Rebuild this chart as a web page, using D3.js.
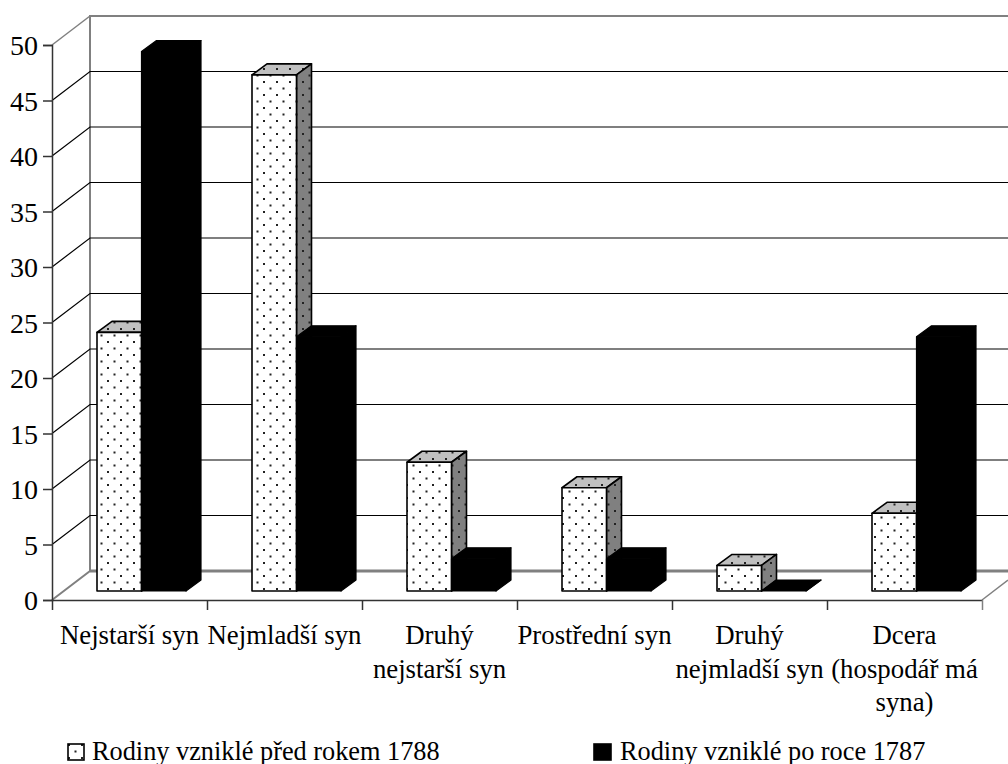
<!DOCTYPE html>
<html lang="en">
<head>
  <meta charset="UTF-8">
  <title>Rodiny</title>
  <style>
    * { padding: 0; margin: 0; }
    body { background: #fff; }
    svg { display: block; }
    text { font-family: "Liberation Serif", serif; fill: #000; }
  </style>
</head>
<body>
  <script src="https://d3js.org/d3.v7.min.js"></script>
  <script>
    const categories = [
      ['Nejstarší syn'],
      ['Nejmladší syn'],
      ['Druhý', 'nejstarší syn'],
      ['Prostřední syn'],
      ['Druhý', 'nejmladší syn'],
      ['Dcera', '(hospodář má', 'syna)']
    ];
    const before1788 = [23.3, 46.5, 11.6, 9.3, 2.3, 7.0];
    const after1787 = [48.6, 22.9, 2.9, 2.9, 0, 22.9];
    const yTicks = [0, 5, 10, 15, 20, 25, 30, 35, 40, 45, 50];
    const legendLabels = ['Rodiny vzniklé před rokem 1788', 'Rodiny vzniklé po roce 1787'];

    const width = 1008, height = 764;
    const depthX = 38, depthY = 29;     // wall depth
    const barDX = 15, barDY = 11;       // bar depth
    const frontBase = 591;              // bar base is pushed back a little from the axis

    const svg = d3.select('body').append('svg')
      .attr('width', width)
      .attr('height', height);

    const defs = svg.append('defs');
    const dots = (id, bg) => {
      const p = defs.append('pattern')
        .attr('id', id)
        .attr('patternUnits', 'userSpaceOnUse')
        .attr('width', 13).attr('height', 13);
      p.append('rect').attr('width', 13).attr('height', 13).attr('fill', bg);
      [[3, 3], [9.5, 9.5]].forEach(d => {
        p.append('rect').attr('x', d[0]).attr('y', d[1])
          .attr('width', 2).attr('height', 2).attr('fill', '#222');
      });
    };
    dots('dotWhite', '#fff');
    dots('dotLight', '#c0c0c0');
    dots('dotGray', '#808080');

    const y = d3.scaleLinear().domain([0, 50]).range([600, 45]);
    const x = d3.scaleBand().domain(d3.range(categories.length)).range([52, 982]);
    const inner = d3.scaleBand().domain([0, 1]).range([45, 134]);
    const h = d3.scaleLinear().domain([0, 50]).range([0, 555]);

    const g = svg.append('g');

    // back wall + floor
    const wallGray = '#808080';
    g.append('path')
      .attr('d', `M${x.range()[0]},${y(0)}L${x.range()[0] + depthX},${y(0) - depthY}V${y(50) - depthY}H${width}`)
      .attr('fill', 'none').attr('stroke', wallGray).attr('stroke-width', 2);
    g.append('line')
      .attr('x1', x.range()[0]).attr('y1', y(50))
      .attr('x2', x.range()[0] + depthX).attr('y2', y(50) - depthY)
      .attr('stroke', wallGray).attr('stroke-width', 1.5);
    g.append('line')
      .attr('x1', x.range()[0] + depthX).attr('y1', y(0) - depthY)
      .attr('x2', width).attr('y2', y(0) - depthY)
      .attr('stroke', wallGray).attr('stroke-width', 3);
    g.append('line')
      .attr('x1', x.range()[1]).attr('y1', y(0))
      .attr('x2', width).attr('y2', y(0) - depthY * (width - x.range()[1]) / depthX)
      .attr('stroke', wallGray).attr('stroke-width', 1.5);

    // gridlines
    const grid = yTicks.filter(d => d > 0 && d < 50);
    g.selectAll('.grid').data(grid).join('path')
      .attr('class', 'grid')
      .attr('d', d => `M${x.range()[0]},${y(d)}L${x.range()[0] + depthX},${y(d) - depthY}H${width}`)
      .attr('fill', 'none').attr('stroke', '#000').attr('stroke-width', 1.2);

    // axes
    const yAxis = d3.axisLeft(y).tickValues(yTicks).tickSize(9).tickPadding(5);
    const yG = g.append('g').attr('transform', `translate(${x.range()[0]},0)`).call(yAxis);
    yG.selectAll('text').attr('font-size', 28).attr('dy', '0.34em');
    yG.selectAll('line,path').attr('stroke', '#333').attr('stroke-width', 1.5);

    const edges = d3.scaleLinear().domain([0, categories.length]).range(x.range());
    const xAxis = d3.axisBottom(edges).ticks(categories.length).tickFormat('').tickSize(10).tickSizeOuter(0);
    const xG = g.append('g').attr('transform', `translate(0,${y(0)})`).call(xAxis);
    xG.selectAll('line,path').attr('stroke', '#333').attr('stroke-width', 1.5);
    xG.selectAll('.tick line').filter(d => d === categories.length).attr('stroke', wallGray);

    // bars
    const drawBar = (cat, s, val) => {
      const x0 = x(cat) + inner(s);
      const bw = inner.bandwidth();
      const top = frontBase - h(val);
      const solid = s === 1;
      const bar = g.append('g').attr('stroke', '#000').attr('stroke-width', solid ? 1.2 : 1.6).attr('stroke-linejoin', 'round');
      bar.append('path')
        .attr('d', `M${x0},${top}l${barDX},${-barDY}h${bw}l${-barDX},${barDY}z`)
        .attr('fill', solid ? '#000' : 'url(#dotLight)');
      bar.append('path')
        .attr('d', `M${x0 + bw},${top}l${barDX},${-barDY}V${frontBase - barDY}l${-barDX},${barDY}z`)
        .attr('fill', solid ? '#000' : 'url(#dotGray)');
      bar.append('rect')
        .attr('x', x0).attr('y', top)
        .attr('width', bw).attr('height', h(val))
        .attr('fill', solid ? '#000' : 'url(#dotWhite)');
    };
    categories.forEach((c, i) => {
      drawBar(i, 0, before1788[i]);
      drawBar(i, 1, after1787[i]);
    });

    // category labels
    const labels = g.selectAll('.cat').data(categories).join('text')
      .attr('class', 'cat')
      .attr('text-anchor', 'middle')
      .attr('font-size', 26.8);
    labels.selectAll('tspan').data((d, i) => d.map(t => ({ t, i }))).join('tspan')
      .attr('x', d => x(d.i) + x.bandwidth() / 2)
      .attr('y', (d, j) => 644 + j * 33.5)
      .text(d => d.t);

    // legend
    const legendX = [68, 594];
    const legend = g.selectAll('.leg').data(legendLabels).join('g').attr('class', 'leg');
    legend.append('rect')
      .attr('x', (d, i) => legendX[i]).attr('y', 744)
      .attr('width', (d, i) => i ? 17 : 16).attr('height', 16)
      .attr('fill', (d, i) => i ? '#000' : 'url(#dotWhite)')
      .attr('stroke', '#000').attr('stroke-width', 1.6);
    legend.append('text')
      .attr('x', (d, i) => legendX[i] + (i ? 26 : 24)).attr('y', 760)
      .attr('font-size', 26.3)
      .text(d => d);
  </script>
</body>
</html>
